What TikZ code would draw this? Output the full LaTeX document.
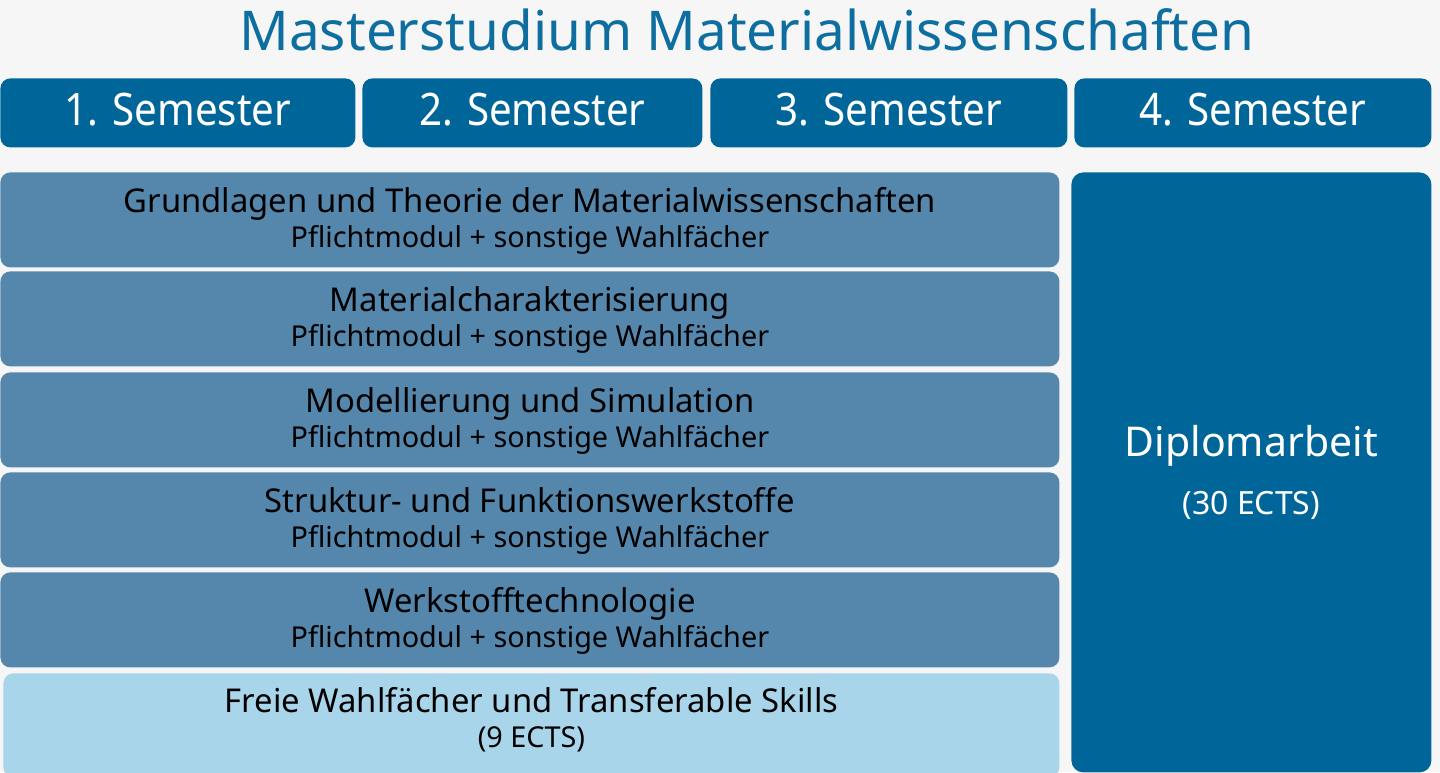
\documentclass[tikz,border=0pt]{standalone}
\usepackage{fontspec}
\setmainfont{Noto Sans}
\newfontfamily\semfont[FakeStretch=0.9]{Noto Sans}
\usetikzlibrary{positioning}
\definecolor{semblue}{HTML}{00669A}
\definecolor{titleblue}{HTML}{0E6EA0}
\definecolor{modblue}{HTML}{5587AD}
\definecolor{freeblue}{HTML}{A9D5EB}
\definecolor{bggray}{HTML}{F6F6F6}
\tikzset{
  sem/.style={fill=semblue, text=white, rounded corners=5pt, inner sep=0pt,
    minimum height=34.5pt, anchor=north west, text depth=4pt,
    font=\semfont\fontsize{22.4}{26}\selectfont},
  modul/.style={fill=modblue, text=black, rounded corners=5pt, inner sep=0pt,
    minimum width=529.5pt, minimum height=47.5pt, anchor=north west, align=center,
    text depth=2pt, font=\fontsize{16.4}{17.5}\selectfont},
  frei/.style={modul, fill=freeblue, text depth=8pt},
  diplom/.style={fill=semblue, text=white, rounded corners=6pt, inner sep=0pt,
    minimum width=180pt, minimum height=300pt, anchor=north west, align=center,
    font=\fontsize{20.5}{27}\selectfont}
}
\newcommand{\subline}[1]{{\fontsize{14.4}{17.5}\selectfont #1}}

\begin{document}
\begin{tikzpicture}[x=0.5pt, y=-0.5pt]
  \fill[bggray] (0,0) rectangle (1440,772);
  \useasboundingbox (0,0) rectangle (1440,772);
  % title
  \node[text=titleblue, font=\fontsize{27.4}{30}\selectfont, anchor=base] (title) at (747,50) {Masterstudium Materialwissenschaften};
  % semesters
  \node[sem, minimum width=177.5pt] (s1) at (0,78) {1. Semester};
  \node[sem, minimum width=170pt] (s2) at (362,78) {2. Semester};
  \node[sem, minimum width=178.5pt] (s3) at (710,78) {3. Semester};
  \node[sem, minimum width=178.5pt] (s4) at (1074,78) {4. Semester};
  % modules
  \node[modul] (grundlagen) at (0,172) {Grundlagen und Theorie der Materialwissenschaften\\\subline{Pflichtmodul + sonstige Wahlfächer}};
  \node[modul] (charakt) at (0,271) {Materialcharakterisierung\\\subline{Pflichtmodul + sonstige Wahlfächer}};
  \node[modul] (modell) at (0,372) {Modellierung und Simulation\\\subline{Pflichtmodul + sonstige Wahlfächer}};
  \node[modul] (struktur) at (0,472) {Struktur- und Funktionswerkstoffe\\\subline{Pflichtmodul + sonstige Wahlfächer}};
  \node[modul] (technologie) at (0,572) {Werkstofftechnologie\\\subline{Pflichtmodul + sonstige Wahlfächer}};
  \node[frei, minimum width=528pt, minimum height=52pt] (frei) at (3,673) {Freie Wahlfächer und Transferable Skills\\\subline{(9 ECTS)}};
  % thesis
  \node[diplom] (diplom) at (1071,172) {Diplomarbeit\\[2pt]{\fontsize{16}{17.5}\selectfont(30 ECTS)}};
\end{tikzpicture}
\end{document}
